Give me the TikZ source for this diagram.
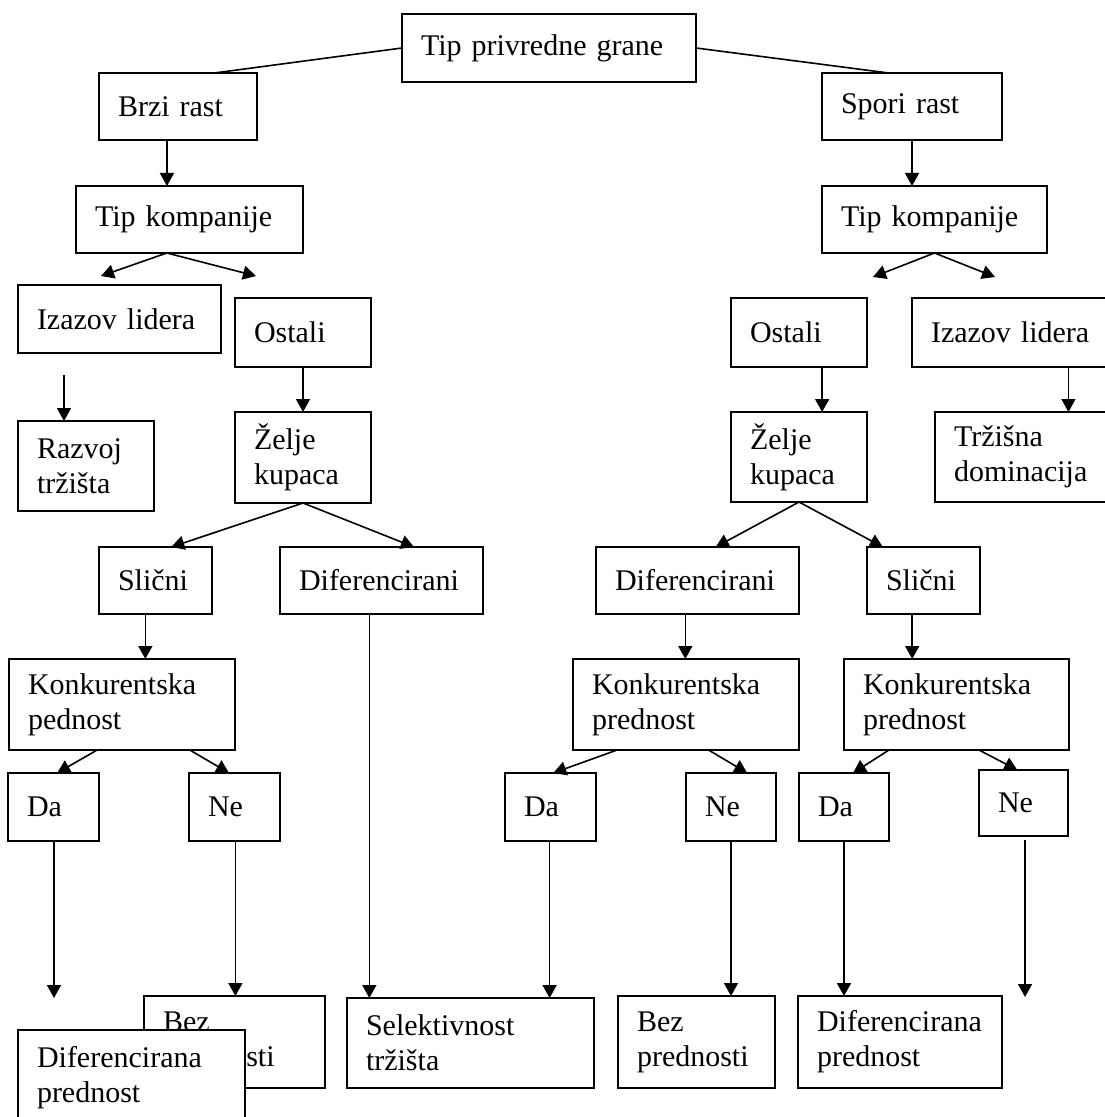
\documentclass[tikz,border=0pt]{standalone}
\usepackage{fontspec}
\setmainfont{Liberation Serif}
\usetikzlibrary{arrows.meta,calc}
\begin{document}
\begin{tikzpicture}[x=0.5pt,y=-0.5pt,
  box/.style={draw, line width=0.9pt, fill=white, anchor=north west, align=left,
    inner xsep=9.5pt, inner ysep=0pt, outer sep=0pt,
    font=\fontsize{15}{17.5}\selectfont},
  link/.style={line width=0.8pt},
  arr/.style={line width=0.8pt, -{Triangle[length=6.5pt,width=7pt]}}]
\fill[white] (0,0) rectangle (1104,1117);
\useasboundingbox (0,0) rectangle (1104,1117);

% root and growth branches
\node[box,text width=128pt,minimum height=34pt] (top) at (402,14) {Tip privredne grane};
\node[box,text width=60pt,minimum height=33.5pt] (brzi) at (99,73) {Brzi rast};
\node[box,text width=71pt,minimum height=33.5pt] (spori) at (822,73) {Spori rast};
\node[box,text width=94.5pt,minimum height=33.5pt] (tkL) at (76,186) {Tip kompanije};
\node[box,text width=93.5pt,minimum height=33.5pt] (tkR) at (822,186) {Tip kompanije};

% left side
\node[box,text width=82.5pt,minimum height=34pt] (izL) at (18,285) {Izazov lidera};
\node[box,text width=49pt,minimum height=34.5pt] (ostL) at (235,298) {Ostali};
\node[box,text width=49pt,minimum height=45pt] (razvoj) at (18,421) {Razvoj\\tržišta};
\node[box,text width=49pt,minimum height=45.5pt] (zeljeL) at (235,412) {Želje\\kupaca};
\node[box,text width=37.5pt,minimum height=33.5pt] (slicniL) at (99,547) {Slični};
\node[box,text width=82.5pt,minimum height=33.5pt] (difL) at (280,547) {Diferencirani};
\node[box,text width=94pt,minimum height=45.5pt] (konkL) at (9,659) {Konkurentska\\pednost};
\node[box,text width=26.5pt,minimum height=34pt] (daL) at (8,773) {Da};
\node[box,text width=26.5pt,minimum height=34pt] (neL) at (189,773) {Ne};
\node[box,text width=71.5pt,minimum height=46pt] (bezL) at (144,996) {Bez\\prednosti};

% right side
\node[box,text width=49pt,minimum height=34.5pt] (ostR) at (731,298) {Ostali};
\node[box,text width=80pt,minimum height=34.5pt] (izR) at (912,298) {Izazov lidera};
\node[box,text width=49pt,minimum height=45pt] (zeljeR) at (731,412) {Želje\\kupaca};
\node[box,text width=71pt,minimum height=45pt] (trzisna) at (935,412) {Tržišna\\dominacija};
\node[box,text width=82.5pt,minimum height=33.5pt] (difR) at (596,547) {Diferencirani};
\node[box,text width=37.5pt,minimum height=33.5pt] (slicniR) at (867,547) {Slični};
\node[box,text width=94pt,minimum height=45.5pt] (konkM) at (573,659) {Konkurentska\\prednost};
\node[box,text width=93.5pt,minimum height=45.5pt] (konkR) at (844,659) {Konkurentska\\prednost};
\node[box,text width=26.5pt,minimum height=34pt] (daM) at (505,773) {Da};
\node[box,text width=26pt,minimum height=34pt] (neM) at (686,773) {Ne};
\node[box,text width=26pt,minimum height=34pt] (daR) at (799,773) {Da};
\node[box,text width=25.5pt,minimum height=33pt] (neR) at (979,770) {Ne};
\node[box,text width=104.5pt,minimum height=45pt] (selekt) at (347,998) {Selektivnost\\tržišta};
\node[box,text width=59.5pt,minimum height=46pt] (bezM) at (618,996) {Bez\\prednosti};
\node[box,text width=83pt,minimum height=46pt] (difpR) at (798,996) {Diferencirana\\prednost};

% open arrow ends
\coordinate (f1) at (101,276);
\coordinate (f2) at (256,276);
\coordinate (f3) at (873,277);
\coordinate (f4) at (995,277);
\coordinate (f5) at (64,375);
\coordinate (f6) at (54,998);
\coordinate (f7) at (1025,997);

% root links
\draw[link] (top.west) -- ($(brzi.north west)!0.73!(brzi.north east)$);
\draw[link] (top.east) -- ($(spori.north west)!0.37!(spori.north east)$);

% vertical arrows
\coordinate (v1) at ($(brzi.south west)!0.43!(brzi.south east)$);
\draw[arr] (v1) -- (v1 |- tkL.north);
\draw[arr] (spori.south) -- (spori.south |- tkR.north);
\draw[arr] (f5) -- (f5 |- razvoj.north);
\draw[arr] (ostL.south) -- (ostL.south |- zeljeL.north);
\coordinate (v2) at ($(ostR.south west)!0.67!(ostR.south east)$);
\draw[arr] (v2) -- (v2 |- zeljeR.north);
\coordinate (v3) at ($(izR.south west)!0.79!(izR.south east)$);
\draw[arr] (v3) -- (v3 |- trzisna.north);
\coordinate (v4) at ($(slicniL.south west)!0.41!(slicniL.south east)$);
\draw[arr] (v4) -- (v4 |- konkL.north);
\coordinate (v5) at ($(difL.south west)!0.44!(difL.south east)$);
\draw[arr] (v5) -- (v5 |- selekt.north);
\coordinate (v6) at ($(difR.south west)!0.44!(difR.south east)$);
\draw[arr] (v6) -- (v6 |- konkM.north);
\coordinate (v7) at ($(slicniR.south west)!0.40!(slicniR.south east)$);
\draw[arr] (v7) -- (v7 |- konkR.north);
\draw[arr] (f6 |- daL.south) -- (f6);
\coordinate (v8) at ($(neL.south west)!0.51!(neL.south east)$);
\draw[arr] (v8) -- (v8 |- bezL.north);
\coordinate (v9) at ($(daM.south west)!0.49!(daM.south east)$);
\draw[arr] (v9) -- (v9 |- selekt.north);
\draw[arr] (neM.south) -- (neM.south |- bezM.north);
\draw[arr] (daR.south) -- (daR.south |- difpR.north);
\draw[arr, shorten <=2pt] (f7 |- neR.south) -- (f7);

% splitting arrows
\coordinate (s1) at ($(tkL.south west)!0.40!(tkL.south east)$);
\draw[arr] (s1) -- (f1);
\draw[arr] (s1) -- (f2);
\draw[arr] (tkR.south) -- (f3);
\draw[arr] (tkR.south) -- (f4);
\draw[arr] (zeljeL.south) -- ($(slicniL.north west)!0.64!(slicniL.north east)$);
\draw[arr] (zeljeL.south) -- ($(difL.north west)!0.66!(difL.north east)$);
\draw[arr] (zeljeR.south) -- ($(difR.north west)!0.59!(difR.north east)$);
\draw[arr] (zeljeR.south) -- ($(slicniR.north west)!0.14!(slicniR.north east)$);
\draw[arr] ($(konkL.south west)!0.39!(konkL.south east)$) -- ($(daL.north west)!0.54!(daL.north east)$);
\draw[arr] ($(konkL.south west)!0.80!(konkL.south east)$) -- ($(neL.north west)!0.44!(neL.north east)$);
\draw[arr] ($(konkM.south west)!0.195!(konkM.south east)$) -- ($(daM.north west)!0.53!(daM.north east)$);
\draw[arr] ($(konkM.south west)!0.60!(konkM.south east)$) -- ($(neM.north west)!0.68!(neM.north east)$);
\draw[arr] ($(konkR.south west)!0.20!(konkR.south east)$) -- ($(daR.north west)!0.60!(daR.north east)$);
\draw[arr] ($(konkR.south west)!0.60!(konkR.south east)$) -- ($(neR.north west)!0.43!(neR.north east)$);

% this box lies over the one drawn before it and runs past the lower edge
\node[box,text width=94.5pt,minimum height=47.5pt] (difpL) at (18,1030) {Diferencirana\\prednost};
\end{tikzpicture}
\end{document}
